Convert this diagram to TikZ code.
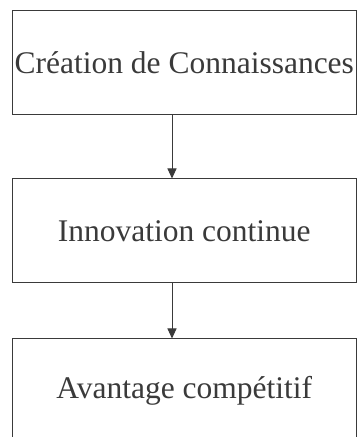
\documentclass[tikz,border=0pt]{standalone}
\usepackage{fontspec}
\setmainfont{Liberation Serif}
\usetikzlibrary{arrows.meta,calc}
\definecolor{ink}{HTML}{3A3A3A}
\tikzset{
  box/.style={draw=ink, line width=1pt, minimum width=344.5pt, minimum height=104pt, inner sep=0pt, text=ink, font=\fontsize{31.5}{36}\selectfont},
  conn/.style={draw=ink, line width=1pt, -{Triangle[length=10pt,width=9pt]}}
}
\begin{document}
\begin{tikzpicture}[x=1pt,y=1pt]
\useasboundingbox (0,0) rectangle (358,437);
\clip (0,0) rectangle (358,437);
\node[box] (b1) at (184.25,374) {Création de Connaissances};
\node[box] (b2) at (184.25,206) {Innovation continue};
\node[box] (b3) at (184.25,46) {Avantage compétitif};
\coordinate (ax) at (172,0);
\draw[conn] (b1.south -| ax) -- (b2.north -| ax);
\draw[conn] (b2.south -| ax) -- (b3.north -| ax);
\end{tikzpicture}
\end{document}
